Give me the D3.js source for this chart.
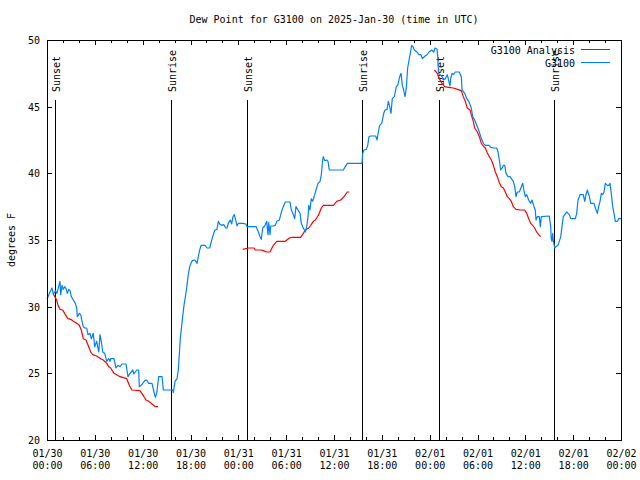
<!DOCTYPE html>
<html><head><meta charset="utf-8">
<script src="https://cdn.jsdelivr.net/npm/d3@7"></script>
<style>
body{margin:0;background:#fff}
svg text{font-family:"DejaVu Sans Mono","Liberation Mono",monospace;font-size:10px;fill:#000}
</style>
</head><body><svg id="chart" width="640" height="480"></svg>
<script>
// ---- data (hours since 2025-01-30 00:00 UTC) ----
const obsHours = [0.00,0.38,0.63,0.79,1.04,1.25,1.63,1.72,1.88,2.04,2.22,2.38,2.55,2.72,2.89,3.05,3.30,3.55,3.73,3.80,4.05,4.23,4.39,4.55,4.73,4.98,5.14,5.39,5.56,5.81,5.98,6.23,6.49,6.65,6.81,6.99,7.24,7.49,7.74,7.90,7.99,8.40,8.66,8.91,9.16,9.41,9.91,10.16,10.41,10.75,10.91,11.25,11.50,11.58,11.83,12.26,12.51,12.76,13.17,13.42,13.59,13.76,14.01,14.43,14.59,15.77,15.84,16.06,16.31,16.47,16.56,16.72,16.90,17.06,17.22,17.40,17.56,17.72,17.90,18.06,18.23,18.56,18.82,18.98,19.15,19.32,19.82,20.07,20.41,20.66,20.91,21.07,21.32,21.49,21.66,21.91,22.17,22.42,22.58,22.74,22.99,23.17,23.33,23.50,23.67,23.83,24.00,24.59,24.93,25.09,26.25,26.51,26.72,26.88,27.06,27.31,27.56,27.72,27.81,27.97,28.06,28.39,28.64,28.81,29.14,29.32,29.48,29.64,29.89,30.48,30.65,30.90,31.07,31.23,31.49,31.74,31.90,32.15,32.40,32.58,32.74,32.83,32.99,33.15,33.33,33.58,33.74,33.99,34.25,34.41,34.58,34.66,34.83,35.09,35.25,35.41,37.17,37.42,37.67,39.51,39.60,39.76,40.05,40.23,40.39,40.56,41.23,41.40,41.56,41.73,41.99,42.24,42.40,42.65,42.81,42.99,43.15,43.31,43.57,43.82,43.99,44.24,44.41,44.57,44.74,44.91,45.07,45.24,45.41,45.57,45.75,45.91,46.07,46.41,46.66,46.91,47.08,47.42,47.67,47.92,48.26,48.51,48.67,48.92,49.01,49.08,49.13,49.55,49.71,49.96,50.21,50.39,50.55,50.64,50.80,50.97,51.22,51.72,51.97,52.06,52.40,52.65,52.90,53.22,53.40,53.65,53.98,54.23,54.40,54.57,54.73,54.98,55.44,55.66,55.98,56.41,56.57,56.74,56.91,57.08,57.24,57.42,57.58,57.83,58.08,58.49,58.67,58.83,58.99,59.25,59.50,59.67,59.83,60.00,60.17,60.42,60.67,60.84,61.09,61.25,61.34,61.50,61.75,61.88,62.00,63.01,63.18,63.25,63.34,63.43,63.50,63.68,63.84,64.09,64.26,64.44,64.60,64.76,64.94,65.19,65.52,65.69,66.27,66.44,66.61,66.86,67.27,67.45,67.61,67.78,68.03,68.20,68.62,68.78,69.03,69.20,69.37,69.53,69.71,69.87,70.03,70.28,70.49,70.62,70.78,70.96,71.12,71.29,71.54,71.71,72.00];
const obsDew = [30.55,31.1,31.4,30.9,31.2,31.0,31.9,30.9,31.6,31.3,31.5,31.35,31.0,31.3,31.2,30.75,30.5,30.25,29.9,29.25,29.5,29.4,28.9,28.5,28.4,28.4,27.9,28.0,27.6,28.0,27.0,27.4,26.6,27.9,27.4,26.6,26.5,25.9,26.1,25.9,26.1,26.1,25.4,25.6,25.5,25.7,25.7,24.75,25.0,25.25,24.95,25.25,25.25,24.0,24.1,24.45,24.5,24.25,24.25,23.6,23.2,23.5,24.75,24.75,23.75,23.75,23.55,24.4,24.6,25.25,26.1,27.6,28.6,29.5,30.25,30.9,31.6,32.4,33.0,33.25,33.45,33.5,33.25,33.75,34.25,34.6,34.6,34.4,34.4,35.0,35.5,35.75,35.8,36.4,36.2,36.1,36.15,35.9,35.9,36.25,36.5,36.2,36.75,36.9,36.5,36.05,36.25,36.25,36.2,36.0,36.0,35.6,35.25,35.05,35.9,36.05,36.4,35.4,36.3,35.4,36.05,36.05,36.1,36.4,36.5,36.9,37.25,37.5,37.85,37.85,37.25,36.9,36.6,37.5,37.25,37.0,36.25,35.9,35.6,36.0,36.75,37.6,37.25,38.1,37.9,38.4,38.75,39.25,39.4,39.9,41.0,41.25,40.95,41.0,40.9,40.25,40.25,40.5,40.75,40.75,41.5,41.75,41.8,42.1,42.75,42.8,42.8,42.5,43.1,43.6,43.75,44.5,44.75,44.8,45.4,45.0,44.5,45.6,45.75,46.5,46.6,47.25,47.5,46.6,46.25,45.75,46.4,47.9,48.5,49.0,49.6,49.5,49.25,49.1,48.9,48.9,48.6,48.8,48.9,49.1,49.25,49.1,49.4,49.3,48.75,47.9,47.5,47.25,47.0,47.1,47.4,46.95,46.55,47.1,47.5,47.4,47.6,47.6,47.25,46.25,46.0,45.6,45.4,44.9,44.25,44.0,43.5,43.1,42.75,42.5,42.25,42.1,42.1,41.95,41.9,41.9,41.6,41.0,40.25,40.4,40.6,40.6,40.0,39.75,39.75,39.4,39.0,38.25,38.6,38.6,39.0,39.25,38.7,38.25,38.4,38.0,37.75,38.0,37.5,37.25,36.5,36.75,36.75,36.0,36.75,36.8,36.0,35.1,34.9,35.5,35.0,34.4,34.5,34.6,34.9,35.25,36.0,36.75,36.9,37.1,36.9,36.6,36.6,37.0,38.0,38.4,38.4,37.9,38.4,38.75,38.25,37.75,37.75,37.4,37.0,37.5,37.9,38.5,38.4,38.6,39.25,39.1,39.1,39.25,38.5,37.5,37.0,36.4,36.4,36.6,36.6];

// Analysis series: null marks a gap between runs
const anaHours = [0.79,1.21,1.38,1.63,1.97,2.30,2.63,2.97,3.30,3.73,4.05,4.30,4.55,4.89,5.23,5.48,5.73,6.23,6.73,7.06,7.49,7.74,7.99,8.40,8.74,9.16,10.00,10.32,10.66,11.66,12.00,12.42,12.76,13.17,13.59,13.93,
  null,
  24.55,25.30,25.97,26.13,26.81,27.14,27.56,27.97,28.22,28.39,28.81,29.89,30.39,30.73,31.82,32.15,32.40,32.83,33.08,33.41,33.66,34.08,34.41,34.66,35.91,36.34,36.84,37.25,37.67,37.92,
  null,
  48.60,48.96,49.21,49.55,49.88,50.39,50.96,51.47,51.97,52.22,52.47,52.72,53.06,53.22,53.47,53.65,53.98,54.23,54.48,54.73,54.98,55.23,55.48,55.74,55.99,56.24,56.49,56.74,56.99,57.24,57.49,57.74,57.99,58.24,58.49,58.83,59.42,59.92,60.17,60.42,60.67,60.92,61.17,61.42,61.67,61.92];
const anaDew = [30.95,30.5,30.1,29.8,29.75,29.4,29.1,29.05,28.9,28.75,28.6,28.25,27.6,27.5,27.0,26.6,26.4,26.3,26.1,26.0,25.75,25.5,25.4,25.0,24.9,24.75,24.6,24.1,23.75,23.7,23.4,23.0,22.9,22.7,22.5,22.5,
  null,
  34.3,34.4,34.4,34.25,34.25,34.2,34.1,34.1,34.4,34.6,34.9,34.9,35.15,35.2,35.2,35.5,35.75,35.9,36.1,36.4,36.5,36.9,37.4,37.6,37.6,37.9,38.0,38.25,38.6,38.6,
  null,
  47.75,47.5,47.1,46.75,46.5,46.45,46.4,46.3,46.2,45.75,45.4,44.9,44.75,44.4,43.9,43.4,43.1,42.75,42.25,42.05,41.9,41.55,41.25,41.0,40.6,40.1,39.75,39.3,39.0,38.9,38.6,38.25,38.1,37.9,37.5,37.3,37.25,37.25,37.0,36.6,36.25,36.1,35.9,35.6,35.4,35.25];

const sunHours  = [1.04, 15.59, 25.13, 39.51, 49.21, 63.64];
const sunLabels = ["Sunset","Sunrise","Sunset","Sunrise","Sunset","Sunrise"];

const xTickHours = [0,6,12,18,24,30,36,42,48,54,60,66,72];
const xTickDates = ["01/30","01/30","01/30","01/30","01/31","01/31","01/31","01/31","02/01","02/01","02/01","02/01","02/02"];
const xTickTimes = ["00:00","06:00","12:00","18:00","00:00","06:00","12:00","18:00","00:00","06:00","12:00","18:00","00:00"];
const yTicks = [20,25,30,35,40,45,50];

const titleText = "Dew Point for G3100 on 2025-Jan-30 (time in UTC)";
const yLabelText = "degrees F";
const seriesNames = ["G3100 Analysis","G3100"];
const seriesColors = ["#ff0000","#0080ff"];

// ---- drawing ----
const L = 47, R = 621, T = 40, B = 440;
const svg = d3.select("#chart");
const x = d3.scaleLinear().domain([0,72]).range([L,R]);
const y = d3.scaleLinear().domain([20,50]).range([B,T]);

svg.append("rect").attr("width",640).attr("height",480).attr("fill","#fff");

svg.append("text").attr("x",(L+R)/2).attr("y",23).attr("text-anchor","middle").text(titleText);

// sun lines
const sg = svg.append("g").attr("shape-rendering","crispEdges");
sunHours.forEach((h,i)=>{
  const px = Math.round(x(h)) + 0.5;
  sg.append("line").attr("x1",px).attr("x2",px).attr("y1",100).attr("y2",B)
    .attr("stroke","#000").attr("stroke-width",1);
  svg.append("text").attr("transform",`translate(${px+4},92) rotate(-90)`)
    .attr("text-anchor","start").text(sunLabels[i]);
});

// minor x ticks (every 2 h)
const minorHours = d3.range(0,73,2).filter(h=>h%6!==0);
const tg = svg.append("g").attr("shape-rendering","crispEdges").attr("stroke","#000");
minorHours.forEach(h=>{
  const px = Math.round(x(h))+0.5;
  tg.append("line").attr("x1",px).attr("x2",px).attr("y1",B).attr("y2",B-3);
  tg.append("line").attr("x1",px).attr("x2",px).attr("y1",T).attr("y2",T+3);
});
xTickHours.forEach(h=>{
  const px = Math.round(x(h))+0.5;
  tg.append("line").attr("x1",px).attr("x2",px).attr("y1",B).attr("y2",B-5);
  tg.append("line").attr("x1",px).attr("x2",px).attr("y1",T).attr("y2",T+5);
});
yTicks.forEach(v=>{
  const py = Math.round(y(v))+0.5;
  tg.append("line").attr("x1",L).attr("x2",L+5).attr("y1",py).attr("y2",py);
  tg.append("line").attr("x1",R).attr("x2",R-5).attr("y1",py).attr("y2",py);
});

// x axis labels via d3 axis
const xAxis = d3.axisBottom(x).tickValues(xTickHours).tickSize(0).tickPadding(0)
  .tickFormat((d,i)=>xTickDates[i]);
const xa = svg.append("g").attr("transform",`translate(0,${B})`).call(xAxis);
xa.select(".domain").remove();
xa.selectAll(".tick text").each(function(d,i){
  const t = d3.select(this);
  t.text(null).attr("y",0).attr("dy",null).attr("font-family",null).attr("font-size",null);
  t.append("tspan").attr("x",0).attr("y",17).text(xTickDates[i]);
  t.append("tspan").attr("x",0).attr("y",29).text(xTickTimes[i]);
});

// y axis labels
const yAxis = d3.axisLeft(y).tickValues(yTicks).tickSize(0).tickPadding(7).tickFormat(d3.format("d"));
const ya = svg.append("g").attr("transform",`translate(${L},0)`).call(yAxis);
ya.select(".domain").remove();
ya.selectAll(".tick text").attr("font-family",null).attr("font-size",null).attr("dy","0.35em");

svg.append("text").attr("transform",`translate(15,${(T+B)/2}) rotate(-90)`)
  .attr("text-anchor","middle").text(yLabelText);

// data lines
const anaPts = anaHours.map((h,i)=>[h,anaDew[i]]);
const obsPts = obsHours.map((h,i)=>[h,obsDew[i]]);
const line = d3.line().defined(d=>d[0]!==null && d[1]!==null).x(d=>x(d[0])).y(d=>y(d[1]));
svg.append("path").attr("d",line(anaPts)).attr("fill","none")
  .attr("stroke",seriesColors[0]).attr("stroke-width",1.2).attr("stroke-linejoin","round");
svg.append("path").attr("d",line(obsPts)).attr("fill","none")
  .attr("stroke",seriesColors[1]).attr("stroke-width",1.2).attr("stroke-linejoin","round");

// frame
svg.append("rect").attr("x",L+0.5).attr("y",T+0.5).attr("width",R-L).attr("height",B-T)
  .attr("fill","none").attr("stroke","#000").attr("shape-rendering","crispEdges");

// legend
const lg = svg.append("g");
[0,1].forEach(i=>{
  const ly = 50 + i*13;
  lg.append("text").attr("x",575).attr("y",ly+3.5).attr("text-anchor","end").text(seriesNames[i]);
  lg.append("line").attr("x1",581).attr("x2",610).attr("y1",ly-0.5).attr("y2",ly-0.5)
    .attr("stroke",seriesColors[i]).attr("stroke-width",1).attr("shape-rendering","crispEdges");
});
</script>
</body></html>
